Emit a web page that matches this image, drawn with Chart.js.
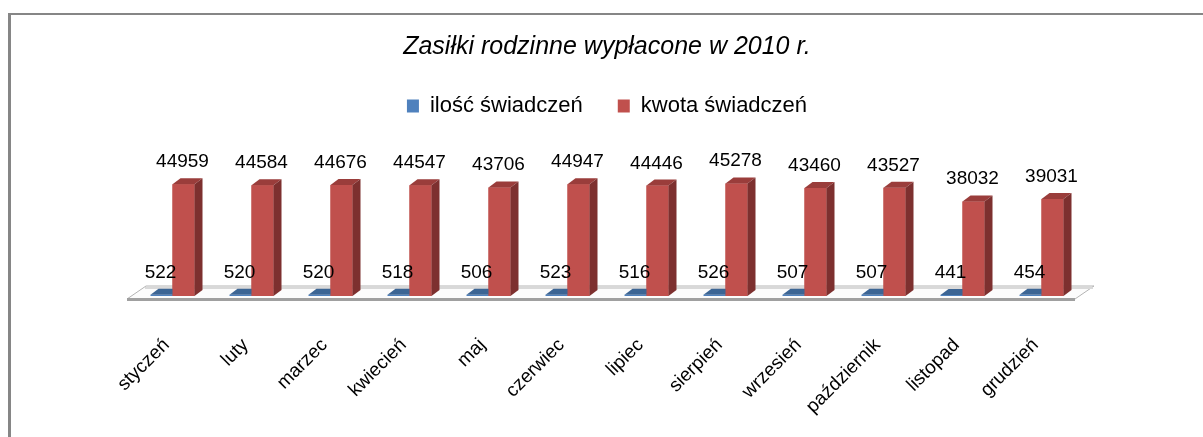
<!DOCTYPE html>
<html>
<head>
<meta charset="utf-8">
<script src="https://cdn.jsdelivr.net/npm/chart.js@4.4.0/dist/chart.umd.min.js"></script>
<style>
  html, body { margin: 0; padding: 0; background: #fff; }
</style>
</head>
<body>
<canvas id="chart" width="1203" height="437"></canvas>
<script>
const months = ['styczeń', 'luty', 'marzec', 'kwiecień', 'maj', 'czerwiec', 'lipiec',
  'sierpień', 'wrzesień', 'październik', 'listopad', 'grudzień'];
const iloscSwiadczen = [522, 520, 520, 518, 506, 523, 516, 526, 507, 507, 441, 454];
const kwotaSwiadczen = [44959, 44584, 44676, 44547, 43706, 44947, 44446, 45278, 43460, 43527, 38032, 39031];

const FONT = "'Liberation Sans', Arial, sans-serif";

// depth of the fake 3d bars
const DX = 8, DY = 6;

function shade(ctx, pts, color) {
  ctx.beginPath();
  ctx.moveTo(pts[0][0], pts[0][1]);
  pts.slice(1).forEach(p => ctx.lineTo(p[0], p[1]));
  ctx.closePath();
  ctx.fillStyle = color;
  ctx.fill();
}

const frame3d = {
  id: 'frame3d',
  beforeDraw(chart) {
    const ctx = chart.ctx;
    ctx.save();
    ctx.fillStyle = '#fff';
    ctx.fillRect(0, 0, chart.width, chart.height);
    // outer frame, only top and left are in view
    ctx.fillStyle = '#868686';
    ctx.fillRect(8, 13, chart.width - 8, 2);
    ctx.fillRect(8, 13, 3, chart.height - 13);
    ctx.restore();
  },
  beforeDatasetsDraw(chart) {
    const ctx = chart.ctx, a = chart.chartArea, b = a.bottom;
    ctx.save();
    // floor
    shade(ctx, [[a.left - 6, b + 3], [a.left + 13, b - 10], [a.right + 13, b - 10], [a.right - 6, b + 3]], '#fcfcfc');
    ctx.strokeStyle = '#b4b4b4';
    ctx.lineWidth = 1;
    ctx.stroke();
    ctx.fillStyle = '#d9d9d9';
    ctx.fillRect(a.left + 12, b - 9, a.right - a.left, 2);
    ctx.fillStyle = '#a0a0a0';
    ctx.fillRect(a.left - 6, b + 2, a.right - a.left, 3);
    ctx.restore();
  },
  afterDatasetsDraw(chart) {
    const ctx = chart.ctx;
    ctx.save();
    // blue first, then red front is redrawn so it hides the blue depth
    chart.data.datasets.forEach((ds, i) => {
      chart.getDatasetMeta(i).data.forEach(bar => {
        if (i > 0) bar.draw(ctx);
        const l = bar.x - bar.width / 2, r = bar.x + bar.width / 2;
        const t = bar.y, bt = bar.base;
        shade(ctx, [[l, t], [r, t], [r + DX, t - DY], [l + DX, t - DY]], ds.topColor);
        shade(ctx, [[r, t], [r + DX, t - DY], [r + DX, bt - DY], [r, bt]], ds.sideColor);
      });
    });
    // value labels
    ctx.font = '19px ' + FONT;
    ctx.fillStyle = '#000';
    ctx.textAlign = 'center';
    ctx.textBaseline = 'alphabetic';
    chart.data.datasets.forEach((ds, i) => {
      chart.getDatasetMeta(i).data.forEach((bar, j) => {
        ctx.fillText(String(ds.data[j]), bar.x - 1, bar.y - 17);
      });
    });
    ctx.restore();
  }
};

new Chart(document.getElementById('chart'), {
  type: 'bar',
  data: {
    labels: months,
    datasets: [
      {
        label: 'ilość świadczeń',
        data: iloscSwiadczen,
        backgroundColor: '#4f81bd',
        topColor: '#3c6594',
        sideColor: '#2f5480'
      },
      {
        label: 'kwota świadczeń',
        data: kwotaSwiadczen,
        backgroundColor: '#c0504d',
        topColor: '#9a3d3b',
        sideColor: '#7d302f'
      }
    ]
  },
  options: {
    responsive: false,
    devicePixelRatio: 1,
    animation: false,
    layout: { padding: { top: 14, left: 133, right: 122, bottom: 0 } },
    datasets: { bar: { categoryPercentage: 0.557, barPercentage: 1 } },
    plugins: {
      title: {
        display: true,
        text: 'Zasiłki rodzinne wypłacone w 2010 r.',
        color: '#000',
        font: { family: FONT, size: 25, style: 'italic', weight: 'normal', lineHeight: 1 },
        padding: { top: 21, bottom: 0 }
      },
      legend: {
        labels: {
          color: '#000',
          boxWidth: 12,
          boxHeight: 13,
          padding: 35,
          font: { family: FONT, size: 22 }
        }
      },
      tooltip: { enabled: false }
    },
    scales: {
      x: {
        grid: { display: false, drawTicks: false },
        border: { display: false },
        ticks: {
          color: '#000',
          autoSkip: false,
          minRotation: 45,
          maxRotation: 45,
          labelOffset: -6,
          padding: 38,
          font: { family: FONT, size: 19 }
        },
        afterFit(scale) { scale.height = 141; }
      },
      y: {
        display: false,
        min: 0,
        max: 68000
      }
    }
  },
  plugins: [frame3d]
});
</script>
</body>
</html>
